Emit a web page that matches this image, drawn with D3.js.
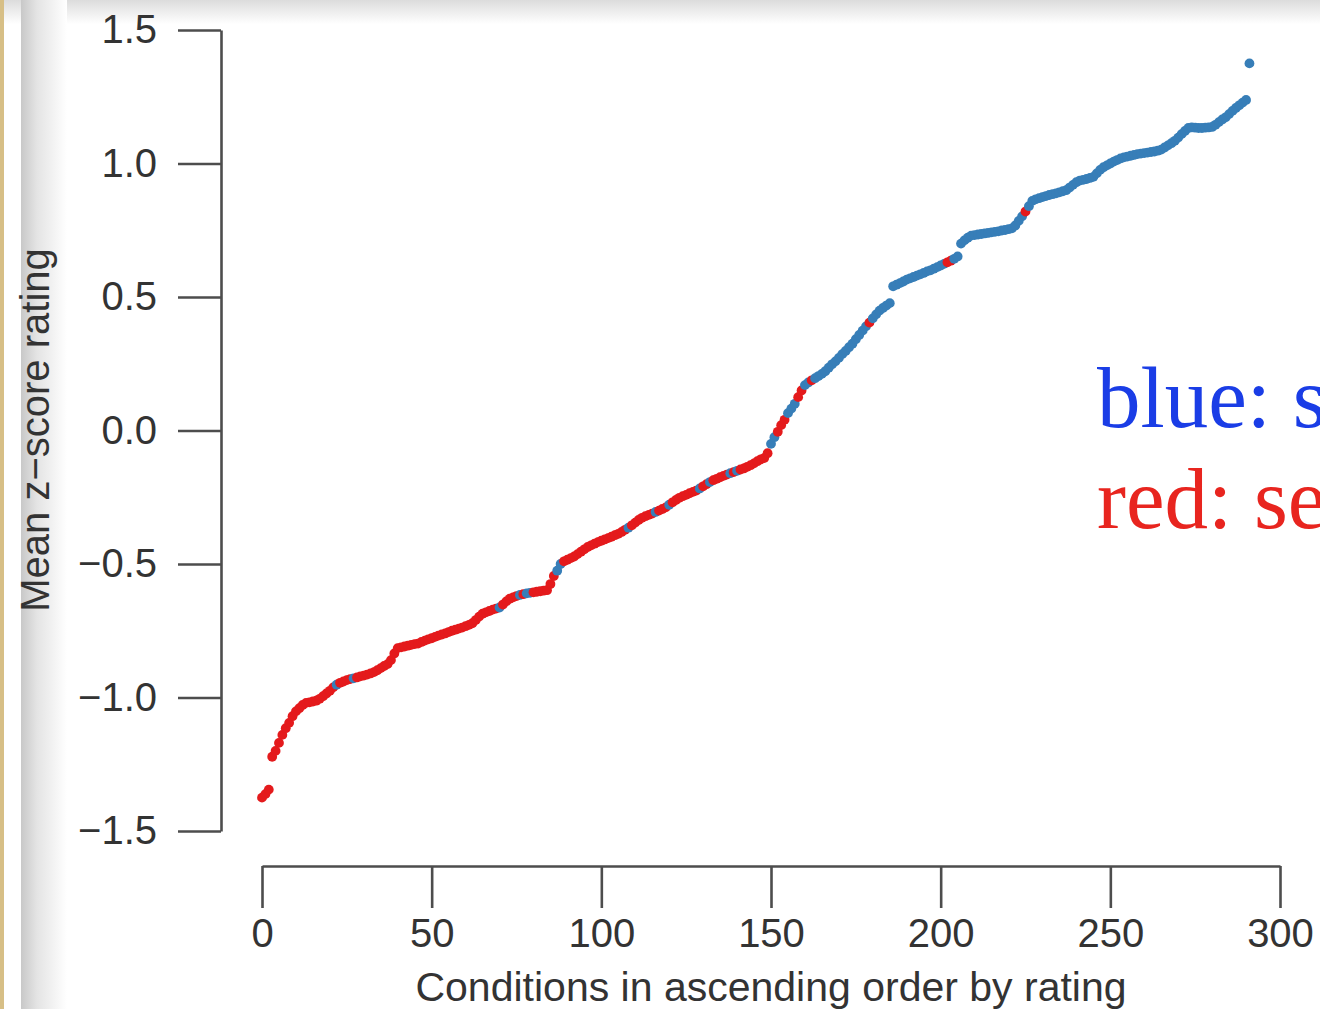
<!DOCTYPE html>
<html>
<head>
<meta charset="utf-8">
<script src="https://cdn.jsdelivr.net/npm/d3@7/dist/d3.min.js"></script>
<style>
  html, body { margin: 0; padding: 0; background: #ffffff; }
  svg { display: block; }
</style>
</head>
<body>
<svg id="chart" width="1320" height="1009"></svg>
<script>
// ---------------- DATA ----------------
// Mean z-score rating of each condition, in ascending order (condition index 0..291)
const ratings = [
  -1.375, -1.362, -1.345, -1.222, -1.200, -1.170, -1.140, -1.115, -1.095, -1.070,
  -1.052, -1.040, -1.028, -1.020, -1.018, -1.015, -1.012, -1.005, -0.995, -0.985,
  -0.975, -0.962, -0.952, -0.945, -0.940, -0.935, -0.931, -0.928, -0.925, -0.921,
  -0.918, -0.914, -0.910, -0.905, -0.898, -0.890, -0.882, -0.875, -0.860, -0.835,
  -0.815, -0.812, -0.809, -0.806, -0.803, -0.800, -0.798, -0.792, -0.787, -0.782,
  -0.778, -0.773, -0.768, -0.764, -0.760, -0.755, -0.750, -0.746, -0.742, -0.738,
  -0.733, -0.728, -0.722, -0.710, -0.697, -0.686, -0.681, -0.676, -0.671, -0.667,
  -0.663, -0.652, -0.640, -0.630, -0.625, -0.620, -0.616, -0.613, -0.610, -0.608,
  -0.606, -0.604, -0.602, -0.600, -0.598, -0.575, -0.545, -0.525, -0.500, -0.490,
  -0.484, -0.478, -0.472, -0.463, -0.454, -0.445, -0.436, -0.430, -0.424, -0.418,
  -0.413, -0.408, -0.403, -0.398, -0.392, -0.387, -0.380, -0.372, -0.364, -0.355,
  -0.345, -0.335, -0.327, -0.321, -0.316, -0.311, -0.305, -0.300, -0.294, -0.288,
  -0.278, -0.269, -0.260, -0.252, -0.246, -0.241, -0.235, -0.230, -0.225, -0.217,
  -0.209, -0.201, -0.193, -0.186, -0.181, -0.175, -0.170, -0.165, -0.160, -0.156,
  -0.151, -0.146, -0.142, -0.136, -0.130, -0.123, -0.115, -0.108, -0.103, -0.085,
  -0.050, -0.025, -0.005,  0.020,  0.040,  0.065,  0.082,  0.100,  0.125,  0.150,
   0.170,  0.180,  0.188,  0.196,  0.204,  0.212,  0.222,  0.235,  0.248,  0.259,
   0.272,  0.286,  0.298,  0.312,  0.325,  0.342,  0.358,  0.374,  0.390,  0.404,
   0.420,  0.435,  0.449,  0.459,  0.468,  0.477,  0.540,  0.546,  0.552,  0.558,
   0.565,  0.570,  0.575,  0.580,  0.585,  0.590,  0.596,  0.600,  0.606,  0.612,
   0.618,  0.624,  0.630,  0.636,  0.643,  0.652,  0.700,  0.712,  0.722,  0.730,
   0.732,  0.734,  0.736,  0.738,  0.740,  0.742,  0.744,  0.746,  0.749,  0.751,
   0.754,  0.757,  0.768,  0.785,  0.802,  0.820,  0.840,  0.860,  0.866,  0.870,
   0.874,  0.878,  0.882,  0.885,  0.888,  0.892,  0.896,  0.900,  0.910,  0.920,
   0.930,  0.936,  0.939,  0.942,  0.946,  0.950,  0.963,  0.976,  0.986,  0.993,
   1.000,  1.007,  1.013,  1.019,  1.023,  1.026,  1.029,  1.032,  1.035,  1.037,
   1.039,  1.041,  1.043,  1.045,  1.048,  1.052,  1.060,  1.068,  1.076,  1.085,
   1.097,  1.110,  1.122,  1.133,  1.135,  1.134,  1.133,  1.133,  1.134,  1.135,
   1.137,  1.145,  1.155,  1.165,  1.173,  1.185,  1.197,  1.208,  1.218,  1.228,
   1.238,  1.375
];

// Colour group of each condition, as consecutive runs [count, group] in index order
const groupRuns = [
  [22, "red"], [1, "blue"], [4, "red"], [1, "blue"], [42, "red"], [1, "blue"],
  [5, "red"], [1, "blue"], [1, "red"], [2, "blue"], [7, "red"], [2, "blue"],
  [19, "red"], [1, "blue"], [7, "red"], [1, "blue"], [3, "red"], [1, "blue"],
  [8, "red"], [1, "blue"], [2, "red"], [1, "blue"], [5, "red"], [1, "blue"],
  [1, "red"], [1, "blue"], [9, "red"],
  [2, "blue"], [3, "red"], [3, "blue"], [2, "red"], [2, "blue"], [1, "red"],
  [16, "blue"], [1, "red"], [22, "blue"], [2, "red"], [21, "blue"], [1, "red"],
  [66, "blue"]
];

const yTicks = [-1.5, -1.0, -0.5, 0.0, 0.5, 1.0, 1.5];
const xTicks = [0, 50, 100, 150, 200, 250, 300];
const xTitle = "Conditions in ascending order by rating";
const yTitle = "Mean z\u2212score rating";
const legendLines = [
  { text: "blue: s", group: "blue" },
  { text: "red: se", group: "red" }
];

// ---------------- STYLE ----------------
const dotColors = { red: "#e41a1c", blue: "#377eb8" };
const legendColors = { red: "#e8251f", blue: "#1a3de6" };
const axisColor = "#4d4d4d";
const textColor = "#333333";
const sansFont = "'Liberation Sans', Arial, Helvetica, sans-serif";
const serifFont = "'Liberation Serif', 'Times New Roman', serif";

// ---------------- BUILD ----------------
const groups = [];
groupRuns.forEach(([n, g]) => { for (let k = 0; k < n; k++) groups.push(g); });
const points = ratings.map((v, i) => ({ x: i, y: v, g: groups[i] || "red" }));

const svg = d3.select("#chart");

// page decoration: top and left shadow, tan border
const defs = svg.append("defs");
const gTop = defs.append("linearGradient").attr("id", "shTop")
  .attr("x1", 0).attr("y1", 0).attr("x2", 0).attr("y2", 1);
gTop.append("stop").attr("offset", 0).attr("stop-color", "#dcdcdc");
gTop.append("stop").attr("offset", 1).attr("stop-color", "#ffffff");
const gLeft = defs.append("linearGradient").attr("id", "shLeft")
  .attr("x1", 0).attr("y1", 0).attr("x2", 1).attr("y2", 0);
gLeft.append("stop").attr("offset", 0).attr("stop-color", "#c8c8c8");
gLeft.append("stop").attr("offset", 0.35).attr("stop-color", "#e4e4e4");
gLeft.append("stop").attr("offset", 1).attr("stop-color", "#ffffff");

svg.append("rect").attr("x", 0).attr("y", 0).attr("width", 1320).attr("height", 1009).attr("fill", "#ffffff");
svg.append("rect").attr("x", 0).attr("y", 0).attr("width", 1320).attr("height", 24).attr("fill", "url(#shTop)");
svg.append("rect").attr("x", 21).attr("y", 0).attr("width", 46).attr("height", 1009).attr("fill", "url(#shLeft)");
svg.append("rect").attr("x", 0).attr("y", 0).attr("width", 4).attr("height", 1009).attr("fill", "#d7bf86");

// scales
const x = d3.scaleLinear().domain([0, 300]).range([262, 1280]);
const y = d3.scaleLinear().domain([-1.5, 1.5]).range([831, 30]);

const fmt = d3.format(".1f");

// y axis
const yAxis = svg.append("g").attr("transform", "translate(221,0)")
  .call(d3.axisLeft(y).tickValues(yTicks).tickFormat(fmt)
    .tickSize(43).tickSizeOuter(0).tickPadding(21));

// x axis
const xAxis = svg.append("g").attr("transform", "translate(0,866)")
  .call(d3.axisBottom(x).tickValues(xTicks).tickFormat(d3.format("d"))
    .tickSize(42).tickSizeOuter(0).tickPadding(11));

[yAxis, xAxis].forEach(ax => {
  ax.select(".domain").attr("stroke", axisColor).attr("stroke-width", 2.6);
  ax.selectAll(".tick line").attr("stroke", axisColor).attr("stroke-width", 2.6);
  ax.selectAll(".tick text").attr("fill", textColor)
    .style("font-family", sansFont).style("font-size", "40px");
});

// axis titles
svg.append("text")
  .attr("x", 771).attr("y", 1001)
  .attr("text-anchor", "middle")
  .style("font-family", sansFont).style("font-size", "41px")
  .attr("fill", textColor)
  .text(xTitle);

svg.append("text")
  .attr("transform", "translate(49,430) rotate(-90)")
  .attr("text-anchor", "middle")
  .style("font-family", sansFont).style("font-size", "40px")
  .attr("fill", textColor)
  .text(yTitle);

// points
svg.append("g").selectAll("circle")
  .data(points)
  .join("circle")
  .attr("cx", d => x(d.x))
  .attr("cy", d => y(d.y))
  .attr("r", 4.9)
  .attr("fill", d => dotColors[d.g]);

// legend text (cut by the right edge as in the reference)
svg.append("g").selectAll("text")
  .data(legendLines)
  .join("text")
  .attr("x", 1097)
  .attr("y", (d, i) => 427 + i * 101)
  .style("font-family", serifFont).style("font-size", "87px")
  .attr("fill", d => legendColors[d.group])
  .text(d => d.text);
</script>
</body>
</html>
